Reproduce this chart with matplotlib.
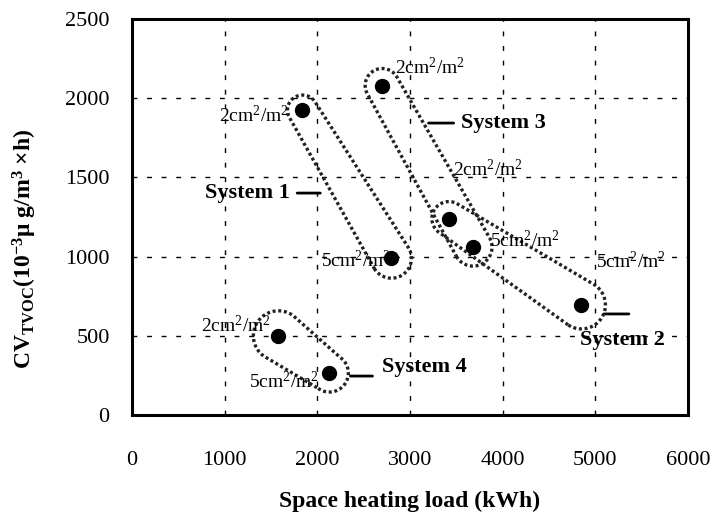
import numpy as np
import matplotlib
matplotlib.use("Agg")
import matplotlib.pyplot as plt

##############################################
################### DATA #####################
##############################################

#space heating load (kWh) and CV_TVOC for the two emission areas of each system
systems = ["System 1", "System 2", "System 3", "System 4"]
load_2cm = [1840, 3420, 2700, 1580]
cv_2cm = [1925, 1240, 2080, 500]
load_5cm = [2800, 4850, 3680, 2130]
cv_5cm = [990, 695, 1060, 265]

x_ticks = [0, 1000, 2000, 3000, 4000, 5000, 6000]
y_ticks = [0, 500, 1000, 1500, 2000, 2500]

##############################################
################# PLOTTING ###################
##############################################

plt.rcParams["font.family"] = ["Liberation Serif", "DejaVu Serif"]
plt.rcParams["mathtext.fontset"] = "custom"
plt.rcParams["mathtext.rm"] = "Liberation Serif"
plt.rcParams["mathtext.bf"] = "Liberation Serif:bold"
plt.rcParams["mathtext.it"] = "Liberation Serif:italic"

fig = plt.figure(figsize=(7.18, 5.13), dpi=100)
ax = fig.add_axes([0.1838, 0.191, 0.7744, 0.772])

ax.set_xlim(0, 6000)
ax.set_ylim(0, 2500)
ax.set_xticks(x_ticks)
ax.set_yticks(y_ticks)
ax.tick_params(length=0, labelsize=16)
ax.tick_params(axis="y", pad=16)
ax.tick_params(axis="x", pad=26)

for s in ax.spines.values():
    s.set_linewidth(2.2)

ax.grid(True, color="black", linewidth=1.0, linestyle=(0, (3.5, 7)))

ax.set_xlabel("Space heating load (kWh)", fontsize=17, fontweight="bold", labelpad=15)
ax.set_ylabel(r"CV$_{\mathbf{TVOC}}$(10$^{\mathbf{-3}}$μ g/m$^{\mathbf{3}}$ ×h)",
              fontsize=17, fontweight="bold")
ax.yaxis.set_label_coords(-0.168, 0.42)

#the points
ax.plot(load_2cm, cv_2cm, "o", color="black", markersize=10, zorder=5)
ax.plot(load_5cm, cv_5cm, "o", color="black", markersize=10, zorder=5)

#dotted outline round each pair of points, built in pixel space
def capsule(p1, p2, r1, r2):
    a = ax.transData.transform(p1)
    b = ax.transData.transform(p2)
    d = b - a
    th = np.arctan2(d[1], d[0])
    t2 = np.linspace(th - np.pi / 2, th + np.pi / 2, 40)
    t1 = np.linspace(th + np.pi / 2, th + 3 * np.pi / 2, 40)
    pts = np.vstack([np.c_[b[0] + r2 * np.cos(t2), b[1] + r2 * np.sin(t2)],
                     np.c_[a[0] + r1 * np.cos(t1), a[1] + r1 * np.sin(t1)]])
    pts = np.vstack([pts, pts[:1]])
    return ax.transData.inverted().transform(pts)

radii = [(15, 20), (17, 24), (17, 19), (25, 19)]
for i in range(len(systems)):
    hull = capsule((load_2cm[i], cv_2cm[i]), (load_5cm[i], cv_5cm[i]), *radii[i])
    ax.plot(hull[:, 0], hull[:, 1], color="#222222", linewidth=2.4,
            linestyle=(0, (0.9, 0.8)), zorder=4)

#area labels next to the points (offsets in pixels)
area_2cm_offsets = [(-14, -12, "right"), (4, 42, "left"), (13, 11, "left"), (-8, 4, "right")]
area_5cm_offsets = [(-1, -9, "right"), (15, 37, "left"), (17, 0, "left"), (-10, -15, "right")]
for i in range(len(systems)):
    dx, dy, ha = area_2cm_offsets[i]
    ax.annotate(r"2cm$^2$/m$^2$", (load_2cm[i], cv_2cm[i]), xytext=(dx, dy),
                textcoords="offset pixels", ha=ha, va="baseline", fontsize=14, zorder=6)
    dx, dy, ha = area_5cm_offsets[i]
    ax.annotate(r"5cm$^2$/m$^2$", (load_5cm[i], cv_5cm[i]), xytext=(dx, dy),
                textcoords="offset pixels", ha=ha, va="baseline", fontsize=14, zorder=6)

#system names with short leader lines
lab = dict(fontsize=16, fontweight="bold", va="center")
line = dict(arrowstyle="-", linewidth=2, color="black", shrinkA=0, shrinkB=0)
ax.annotate("System 1", (2032, 1401), xytext=(1708, 1401), ha="right",
            arrowprops=dict(line, shrinkA=3), **lab)
ax.annotate("System 3", (3200, 1843), xytext=(3546, 1843), ha="left",
            arrowprops=dict(line, shrinkA=3), **lab)
ax.annotate("System 2", (4840, 473), ha="left", **lab)
ax.annotate("", (5092, 638), xytext=(5362, 638), arrowprops=line)
ax.annotate("System 4", (2703, 303), ha="left", **lab)
ax.annotate("", (2357, 246), xytext=(2595, 246), arrowprops=line)

plt.savefig("out.png", dpi=100)
